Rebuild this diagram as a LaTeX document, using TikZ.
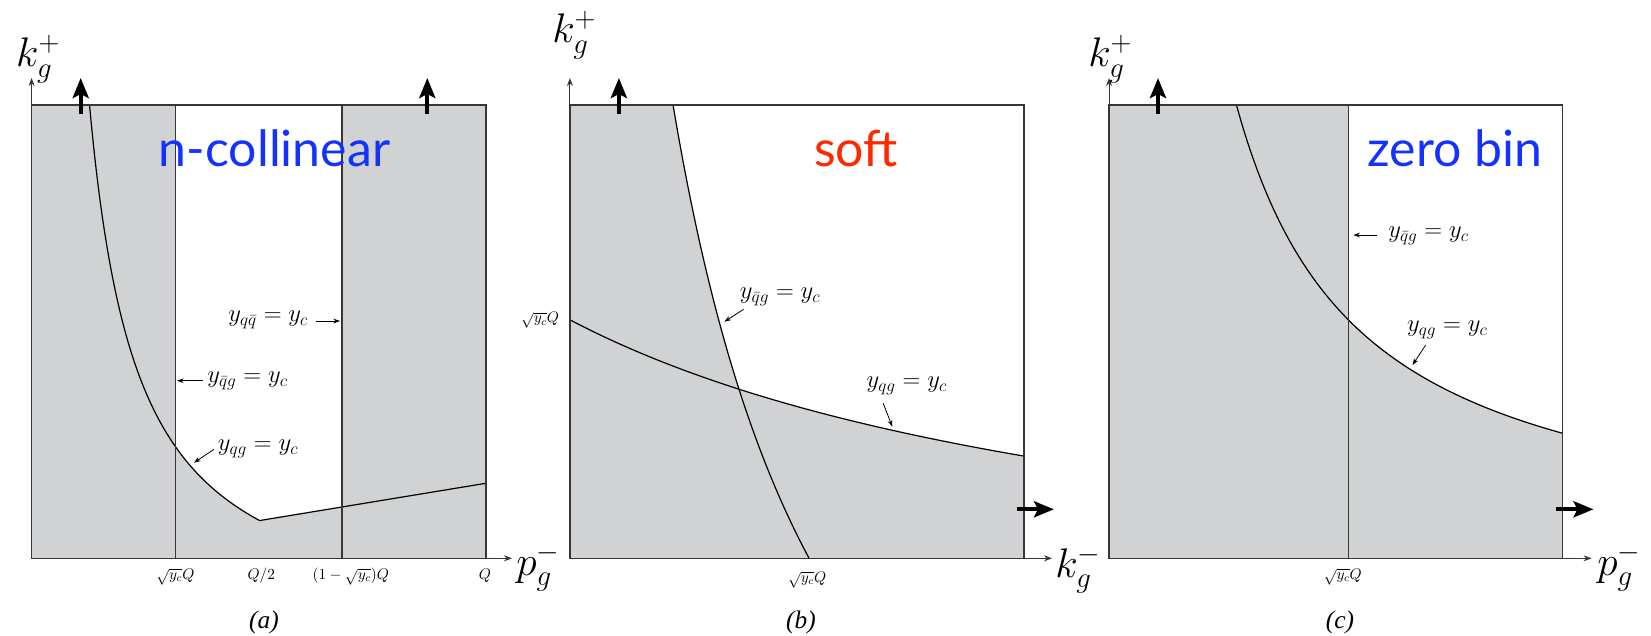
\RequirePackage{fix-cm}
\documentclass[tikz,border=0pt]{standalone}
\usepackage{fontspec}
\newfontfamily\gill{Lato}
\newfontfamily\capfont{Liberation Serif}
\usetikzlibrary{arrows.meta}
\definecolor{regiongray}{RGB}{209,210,212}
\definecolor{labblue}{RGB}{20,50,255}
\definecolor{labred}{RGB}{255,40,0}
\definecolor{edge}{RGB}{55,55,55}
\begin{document}
\begin{tikzpicture}[x=0.75pt,y=-0.75pt,
 region/.style={fill=regiongray},
 boxline/.style={draw=edge, line width=1.1pt},
 curve/.style={line width=0.9pt, draw=black},
 divider/.style={draw=edge, line width=1pt},
 axis/.style={draw=edge, line width=0.7pt, -{Stealth[length=6pt,width=4.5pt]}},
 bigarrow/.style={draw=black, line width=3pt, -{Stealth[length=15pt,width=12pt,inset=3pt]}},
 lab/.style={font=\fontsize{18.5}{20}\selectfont, inner sep=0, anchor=west},
 labarrow/.style={draw=black, line width=0.6pt, -{Stealth[length=5pt,width=3.5pt]}},
 tick/.style={font=\fontsize{11.5}{13}\selectfont, inner sep=0, anchor=base},
 axlab/.style={font=\fontsize{31}{33}\selectfont, inner sep=0, anchor=base west},
 title/.style={font=\gill\fontsize{37.5}{40}\selectfont, inner sep=0, anchor=base},
 caption/.style={font=\capfont\itshape\fontsize{19}{21}\selectfont, inner sep=0},
]
\useasboundingbox (0,0) rectangle (1651,635);

%================ panel (a)
\path[region] (31.6,105) rectangle (485.8,558.3);
\begin{scope}[shift={(31.6,558.3)}, yscale=-1]
 \fill[white] (143.8,453.3) -- plot[domain=143.8:228, samples=40] (\x,{256.89/(0.01*(\x-9.73))-80}) -- (310.4,51.2) -- (310.4,453.3) -- cycle;
 \draw[curve] plot[domain=57.9:228, samples=80] (\x,{256.89/(0.01*(\x-9.73))-80}) -- (454.2,75);
\end{scope}
\draw[divider] (175.4,105) -- (175.4,558.3);
\draw[divider] (342,105) -- (342,558.3);
\draw[boxline] (31.6,105) rectangle (485.8,558.3);
\coordinate (aO) at (31.6,558.3);
\coordinate (aY) at (31.6,78);
\coordinate (aX) at (512,558.3);
\draw[axis] (aO) -- (aY);
\draw[axis] (aO) -- (aX);
\coordinate (aU1s) at (80.7,114); \coordinate (aU1e) at (80.7,78);
\coordinate (aU2s) at (427.3,114); \coordinate (aU2e) at (427.3,78);
\draw[bigarrow] (aU1s) -- (aU1e);
\draw[bigarrow] (aU2s) -- (aU2e);
\node[axlab] (aky) at (15.8,67) {$k_g^+$};
\node[axlab] (apx) at (516,575) {$p_g^-$};
\node[title, text=labblue] (atitle) at (274.5,166.7) {n-collinear};
\node[tick] (at1) at (175.4,579.5) {$\sqrt{y_c}Q$};
\node[tick] (at2) at (261.3,579.5) {$Q/2$};
\node[tick] (at3) at (350.8,579.5) {$(1-\sqrt{y_c})Q$};
\node[tick] (at4) at (485,579.5) {$Q$};
\node[lab] (al1) at (228,320) {$y_{q\bar q}=y_c$};
\coordinate (al1s) at (315.7,321); \coordinate (al1e) at (340,321);
\draw[labarrow] (al1s) -- (al1e);
\node[lab] (al2) at (207,381) {$y_{\bar q g}=y_c$};
\coordinate (al2s) at (202.8,380.7); \coordinate (al2e) at (177,380.7);
\draw[labarrow] (al2s) -- (al2e);
\node[lab] (al3) at (217.5,449) {$y_{qg}=y_c$};
\coordinate (al3s) at (214,449.3); \coordinate (al3e) at (194,462.7);
\draw[labarrow] (al3s) -- (al3e);
\node[caption] (acap) at (264,622) {(a)};

%================ panel (b)
\path[region] (569.9,105) rectangle (1024.2,558.3);
\begin{scope}[shift={(569.9,558.3)}, yscale=-1]
 \fill[white] (103.05,453.3) -- plot[domain=453.3:169, samples=40] ({1782.93/(0.01*(\x+577))-70},\x) -- plot[domain=169:454.3, samples=60] (\x,{1932.72/(0.01*(\x+607.2))-80}) -- (454.3,453.3) -- cycle;
 \draw[curve] plot[domain=453.3:0, samples=80] ({1782.93/(0.01*(\x+577))-70},\x);
 \draw[curve] plot[domain=0:454.3, samples=80] (\x,{1932.72/(0.01*(\x+607.2))-80});
\end{scope}
\draw[boxline] (569.9,105) rectangle (1024.2,558.3);
\coordinate (bO) at (569.9,558.3);
\coordinate (bY) at (569.9,78);
\coordinate (bX) at (1052,558.3);
\draw[axis] (bO) -- (bY);
\draw[axis] (bO) -- (bX);
\coordinate (bUs) at (618.9,114); \coordinate (bUe) at (618.9,78);
\draw[bigarrow] (bUs) -- (bUe);
\coordinate (bRs) at (1016.7,509.3); \coordinate (bRe) at (1054,509.3);
\draw[bigarrow] (bRs) -- (bRe);
\node[axlab] (bky) at (552,43) {$k_g^+$};
\node[axlab] (bkx) at (1055,577) {$k_g^-$};
\node[title, text=labred] (btitle) at (856,166.7) {soft};
\node[tick] (bt1) at (807.2,582.5) {$\sqrt{y_c}Q$};
\node[font=\fontsize{11.5}{13}\selectfont, inner sep=0, anchor=east] (bt2) at (559.3,320) {$\sqrt{y_c}Q$};
\node[lab] (bl1) at (739.6,296.7) {$y_{\bar q g}=y_c$};
\coordinate (bl1s) at (743.6,309.3); \coordinate (bl1e) at (724.4,321.7);
\draw[labarrow] (bl1s) -- (bl1e);
\node[lab] (bl2) at (866.3,386) {$y_{qg}=y_c$};
\coordinate (bl2s) at (883.2,403.3); \coordinate (bl2e) at (892.3,426.7);
\draw[labarrow] (bl2s) -- (bl2e);
\node[caption] (bcap) at (801,622) {(b)};

%================ panel (c)
\path[region] (1109,105) rectangle (1562.5,558.3);
\begin{scope}[shift={(1109,558.3)}, yscale=-1]
 \fill[white] (239.4,453.3) -- plot[domain=239.4:453.5, samples=50] (\x,{562.87/(0.01*(\x-3.19))}) -- (453.5,453.3) -- cycle;
 \draw[curve] plot[domain=127.4:453.5, samples=80] (\x,{562.87/(0.01*(\x-3.19))});
\end{scope}
\draw[divider] (1348.4,105) -- (1348.4,558.3);
\draw[boxline] (1109,105) rectangle (1562.5,558.3);
\coordinate (cO) at (1109,558.3);
\coordinate (cY) at (1109,78);
\coordinate (cX) at (1591.6,558.3);
\draw[axis] (cO) -- (cY);
\draw[axis] (cO) -- (cX);
\coordinate (cUs) at (1158,114); \coordinate (cUe) at (1158,78);
\draw[bigarrow] (cUs) -- (cUe);
\coordinate (cRs) at (1555.8,509.3); \coordinate (cRe) at (1593.5,509.3);
\draw[bigarrow] (cRs) -- (cRe);
\node[axlab] (cky) at (1088,67) {$k_g^+$};
\node[axlab] (cpx) at (1597,575) {$p_g^-$};
\node[title, text=labblue] (ctitle) at (1455,166.7) {zero bin};
\node[tick] (ct1) at (1342.8,579.5) {$\sqrt{y_c}Q$};
\node[lab] (cl1) at (1388,236) {$y_{\bar q g}=y_c$};
\coordinate (cl1s) at (1376.7,235); \coordinate (cl1e) at (1353.3,235);
\draw[labarrow] (cl1s) -- (cl1e);
\node[lab] (cl2) at (1406.8,330) {$y_{qg}=y_c$};
\coordinate (cl2s) at (1425.7,345); \coordinate (cl2e) at (1412.5,365);
\draw[labarrow] (cl2s) -- (cl2e);
\node[caption] (ccap) at (1340,622) {(c)};
\end{tikzpicture}
\end{document}
